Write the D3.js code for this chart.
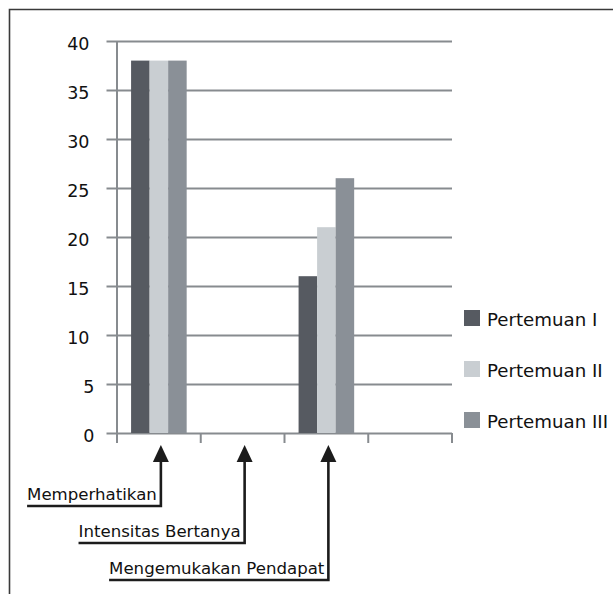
<!DOCTYPE html>
<html lang="en">
<head>
<meta charset="UTF-8">
<title>Pertemuan</title>
<style>
    body { margin: 0; background: #fff; }
    text { font-family: "DejaVu Sans", sans-serif; fill: #111; }
</style>
</head>
<body>
<div id="chart"></div>
<script src="https://d3js.org/d3.v7.min.js"></script>
<script>
// data
var categories = ["Memperhatikan", "Intensitas Bertanya", "Mengemukakan Pendapat"];
var series = ["Pertemuan I", "Pertemuan II", "Pertemuan III"];
var pertemuan1 = [38, 0, 16];
var pertemuan2 = [38, 0, 21];
var pertemuan3 = [38, 0, 26];
var yTicks = [0, 5, 10, 15, 20, 25, 30, 35, 40];

var colors = ["#565a61", "#c9ced2", "#8a9097"];
var gridColor = "#878b8f";

var width = 613, height = 594;

var svg = d3.select("#chart").append("svg")
    .attr("width", width)
    .attr("height", height);

svg.append("rect").attr("width", width).attr("height", height).attr("fill", "#fff");

// outer frame (left + top only)
svg.append("path")
    .attr("d", "M9.5," + height + "V9.5H" + width)
    .attr("fill", "none")
    .attr("stroke", "#3a3a3a")
    .attr("stroke-width", 1.6);

// 4th slot is an empty category
var slots = categories.concat([""]);

var x = d3.scaleBand()
    .domain(slots)
    .range([117, 452]);

var xInner = d3.scaleBand()
    .domain(series)
    .range([0, x.bandwidth()])
    .paddingOuter(0.76);

var y = d3.scaleLinear()
    .domain([0, 40])
    .range([433, 41]);

// y axis with gridlines
var gridLeft = 106.5;
var yAxis = d3.axisLeft(y)
    .tickValues(yTicks)
    .tickSize(-(452 - gridLeft))
    .tickPadding(17);

var gy = svg.append("g")
    .attr("transform", "translate(" + gridLeft + ",0)")
    .call(yAxis);
gy.select(".domain").remove();
gy.selectAll("line").attr("stroke", gridColor).attr("stroke-width", 2);
gy.selectAll("text")
    .attr("font-family", "DejaVu Sans, sans-serif")
    .attr("font-size", 17.5)
    .attr("fill", "#111")
    .attr("y", 2)
    .attr("dy", "0.36em")
    // single digit labels sit a little further right in the original
    .attr("dx", function(d) { return String(d).length === 1 ? 5 : 0; });

// vertical axis line
svg.append("line")
    .attr("x1", x.range()[0]).attr("x2", x.range()[0])
    .attr("y1", y(40)).attr("y2", y(0) + 10)
    .attr("stroke", gridColor).attr("stroke-width", 2);

// category boundary ticks
var bounds = slots.map(function(d) { return x(d); }).concat([x.range()[1]]);
svg.selectAll(".xtick")
    .data(bounds.slice(1))
    .enter().append("line")
    .attr("class", "xtick")
    .attr("x1", function(d) { return d; })
    .attr("x2", function(d) { return d; })
    .attr("y1", y(0))
    .attr("y2", y(0) + 10)
    .attr("stroke", gridColor)
    .attr("stroke-width", 2);

// bars
var values = [pertemuan1, pertemuan2, pertemuan3];
var rows = [];
categories.forEach(function(c, i) {
    series.forEach(function(s, j) {
        rows.push({cat: c, series: s, idx: j, value: values[j][i]});
    });
});

svg.selectAll(".bar")
    .data(rows.filter(function(d) { return d.value > 0; }))
    .enter().append("rect")
    .attr("class", "bar")
    .attr("x", function(d) { return x(d.cat) + xInner(d.series); })
    .attr("width", xInner.bandwidth())
    .attr("y", function(d) { return y(d.value); })
    .attr("height", function(d) { return y(0) - y(d.value); })
    .attr("fill", function(d) { return colors[d.idx]; });

// legend
var legend = svg.selectAll(".legend")
    .data(series)
    .enter().append("g")
    .attr("class", "legend")
    .attr("transform", function(d, i) { return "translate(464," + (318 + i * 51) + ")"; });

legend.append("rect")
    .attr("x", 0).attr("y", -8)
    .attr("width", 16).attr("height", 16)
    .attr("fill", function(d, i) { return colors[i]; });

legend.append("text")
    .attr("x", 23)
    .attr("y", 1)
    .attr("dy", "0.36em")
    .attr("font-size", 18.2)
    .text(function(d) { return d; });

// category callouts with arrows
var arrowTip = y(0) + 12;
var callouts = svg.selectAll(".callout")
    .data(categories)
    .enter().append("g")
    .attr("class", "callout");

callouts.each(function(d, i) {
    var g = d3.select(this);
    var cx = x(d) + x.bandwidth() / 2 + 2;
    var baseY = 506 + i * 37;

    var label = g.append("text")
        .attr("x", cx - 4)
        .attr("y", baseY - 6)
        .attr("text-anchor", "end")
        .attr("font-size", 16.6)
        .text(d);
    var left = label.node().getBBox().x;

    g.append("path")
        .attr("d", "M" + cx + "," + (arrowTip + 14) + "V" + baseY + "H" + left)
        .attr("fill", "none")
        .attr("stroke", "#1c1c1c")
        .attr("stroke-width", 2.6);

    g.append("path")
        .attr("d", "M" + cx + "," + arrowTip + "L" + (cx + 8) + "," + (arrowTip + 17) +
            "L" + (cx - 8) + "," + (arrowTip + 17) + "Z")
        .attr("fill", "#1c1c1c");
});
</script>
</body>
</html>
